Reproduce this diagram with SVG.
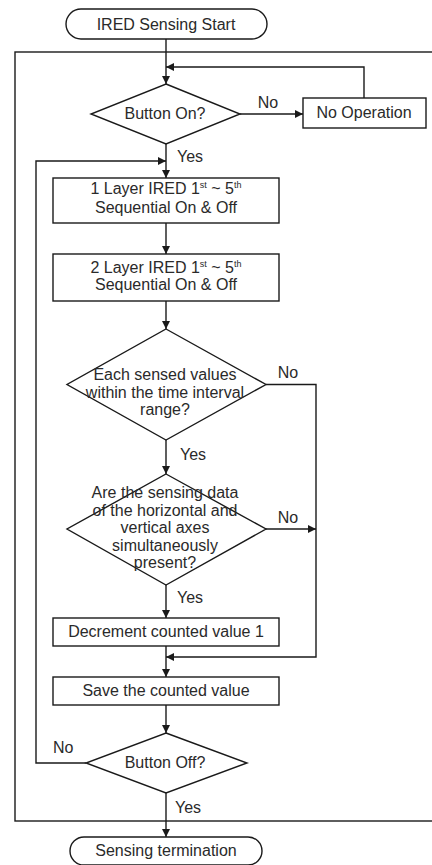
<svg xmlns="http://www.w3.org/2000/svg" width="432" height="865" viewBox="0 0 432 865">
<defs>
<style>
.s{fill:#fff;stroke:#1a1a1a;stroke-width:1.4}
.c{fill:none;stroke:#1a1a1a;stroke-width:1.4}
text{font-family:"Liberation Sans",Arial,sans-serif;font-size:16px;fill:#2a2a2a}
.m{text-anchor:middle}
.sup{font-size:9px}
</style>
<marker id="ah" viewBox="0 0 10 10" refX="10" refY="5" markerWidth="8" markerHeight="8" markerUnits="userSpaceOnUse" orient="auto">
<path d="M0,0 L10,5 L0,10 z" fill="#1a1a1a"/>
</marker>
</defs>
<rect width="432" height="865" fill="#fff"/>
<rect id="frame" x="15" y="52" width="440" height="769" fill="none" stroke="#1a1a1a" stroke-width="1.4"/>
<g id="connectors">
<path class="c" d="M166,39 V84" marker-end="url(#ah)"/>
<path class="c" d="M364,98 V67 H166" marker-end="url(#ah)"/>
<path class="c" d="M240,114 H303" marker-end="url(#ah)"/>
<path class="c" d="M166,144 V178" marker-end="url(#ah)"/>
<path class="c" d="M166,223 V254" marker-end="url(#ah)"/>
<path class="c" d="M166,301 V329" marker-end="url(#ah)"/>
<path class="c" d="M266,384.5 H316 V657 H166" marker-end="url(#ah)"/>
<path class="c" d="M166,440 V474" marker-end="url(#ah)"/>
<path class="c" d="M266,529 H316" marker-end="url(#ah)"/>
<path class="c" d="M166,585 V618" marker-end="url(#ah)"/>
<path class="c" d="M166,646 V677" marker-end="url(#ah)"/>
<path class="c" d="M166,705 V733" marker-end="url(#ah)"/>
<path class="c" d="M86,763 H36 V161 H166" marker-end="url(#ah)"/>
<path class="c" d="M166,793 V837" marker-end="url(#ah)"/>
<text x="268" y="108" class="m">No</text>
<text x="177" y="162">Yes</text>
<text x="288" y="378" class="m">No</text>
<text x="180" y="460">Yes</text>
<text x="288" y="523" class="m">No</text>
<text x="177" y="603">Yes</text>
<text x="53" y="753">No</text>
<text x="175" y="813">Yes</text>
</g>
<g id="start">
<rect class="s" x="66" y="9" width="201" height="30" rx="15"/>
<text x="166" y="30" class="m">IRED Sensing Start</text>
</g>
<g id="button-on">
<polygon class="s" points="166,84 240,114 166,144 91,114"/>
<text x="165" y="119" class="m">Button On?</text>
</g>
<g id="no-operation">
<rect class="s" x="303" y="98" width="123" height="30"/>
<text x="364" y="118" class="m">No Operation</text>
</g>
<g id="layer1">
<rect class="s" x="53" y="178" width="226" height="45"/>
<text x="166" y="194" class="m">1 Layer IRED 1<tspan class="sup" dy="-6">st</tspan><tspan dy="6"> ~ 5</tspan><tspan class="sup" dy="-6">th</tspan></text>
<text x="166" y="213" class="m">Sequential On &amp; Off</text>
</g>
<g id="layer2">
<rect class="s" x="53" y="254" width="226" height="47"/>
<text x="166" y="273" class="m">2 Layer IRED 1<tspan class="sup" dy="-6">st</tspan><tspan dy="6"> ~ 5</tspan><tspan class="sup" dy="-6">th</tspan></text>
<text x="166" y="290" class="m">Sequential On &amp; Off</text>
</g>
<g id="interval-check">
<polygon class="s" points="166,329 266,384.5 166,440 67,384.5"/>
<text x="165" y="380" class="m">Each sensed values</text>
<text x="165" y="397.5" class="m">within the time interval</text>
<text x="165" y="415" class="m">range?</text>
</g>
<g id="axes-check">
<polygon class="s" points="166,474 266,529 166,585 67,529"/>
<text x="165" y="498" class="m">Are the sensing data</text>
<text x="165" y="515.5" class="m">of the horizontal and</text>
<text x="165" y="533" class="m">vertical axes</text>
<text x="165" y="550.5" class="m">simultaneously</text>
<text x="165" y="568" class="m">present?</text>
</g>
<g id="decrement">
<rect class="s" x="53" y="618" width="226" height="28"/>
<text x="166" y="637" class="m">Decrement counted value 1</text>
</g>
<g id="save">
<rect class="s" x="53" y="677" width="226" height="28"/>
<text x="166" y="696" class="m">Save the counted value</text>
</g>
<g id="button-off">
<polygon class="s" points="166,733 247,763 166,793 86,763"/>
<text x="165" y="768" class="m">Button Off?</text>
</g>
<g id="end">
<rect class="s" x="70" y="837" width="192" height="28" rx="14"/>
<text x="166" y="856" class="m">Sensing termination</text>
</g>
</svg>
